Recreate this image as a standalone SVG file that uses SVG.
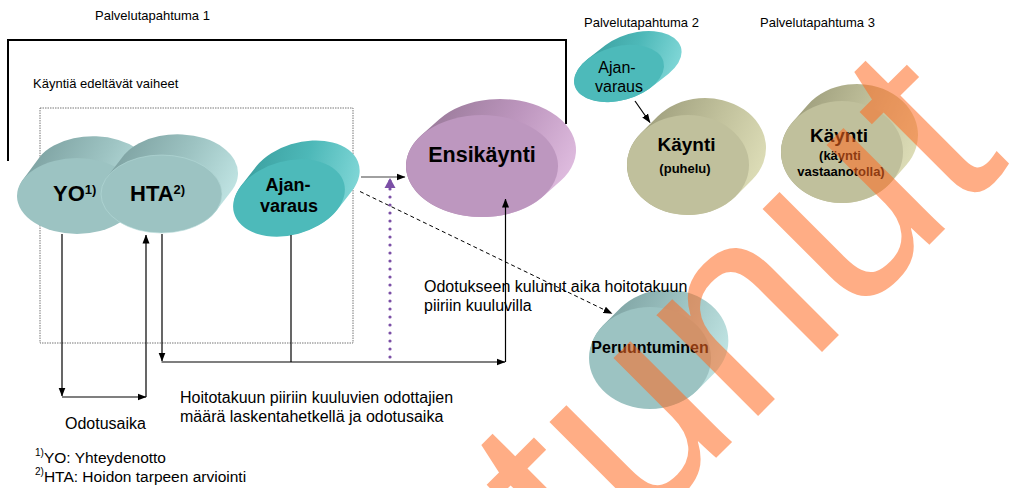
<svg xmlns="http://www.w3.org/2000/svg" width="1017" height="488" viewBox="0 0 1017 488">
<defs>
<style>
text{font-family:"Liberation Sans",Arial,sans-serif;fill:#000}
.lbl{font-size:13px}
.note{font-size:16px}
.foot{font-size:15.5px}
.sup{font-size:10px}
.b{font-weight:bold}
.ln{fill:none;stroke:#000;stroke-width:1.2}
text.wm{fill:#ff6a20;fill-opacity:0.55;font-size:271px}
</style>
<linearGradient id="gTg" x1="0" y1="0.2" x2="1" y2="0.6"><stop offset="0" stop-color="#789c9c"/><stop offset="0.55" stop-color="#9dc3c2"/><stop offset="1" stop-color="#c2e6e5"/></linearGradient>
<linearGradient id="gTe" x1="0" y1="0.2" x2="1" y2="0.6"><stop offset="0" stop-color="#379a9a"/><stop offset="0.55" stop-color="#4db8b8"/><stop offset="1" stop-color="#82d8d8"/></linearGradient>
<linearGradient id="gPu" x1="0" y1="0.2" x2="1" y2="0.6"><stop offset="0" stop-color="#937593"/><stop offset="0.55" stop-color="#bd96be"/><stop offset="1" stop-color="#e0bde0"/></linearGradient>
<linearGradient id="gKh" x1="0" y1="0.2" x2="1" y2="0.6"><stop offset="0" stop-color="#979776"/><stop offset="0.55" stop-color="#c0c09b"/><stop offset="1" stop-color="#dedeb8"/></linearGradient>
<marker id="ar" markerWidth="9" markerHeight="8" refX="8.5" refY="4" orient="auto" markerUnits="userSpaceOnUse"><path d="M0,0.5 L9,4 L0,7.5 Z" fill="#000"/></marker>
<marker id="arP" markerWidth="12" markerHeight="12" refX="10" refY="6" orient="auto" markerUnits="userSpaceOnUse"><path d="M0,0.5 L10,6 L0,11.5 Z" fill="#7b4fa6"/></marker>
</defs>

<g id="frames">
<path d="M8,161 V40 H566 V124" fill="none" stroke="#000" stroke-width="2"/>
<rect x="40" y="108" width="313" height="235" fill="none" stroke="#777" stroke-width="1" stroke-dasharray="1.5 1"/>
</g>

<g id="titles">
<text class="lbl" x="95" y="20">Palvelutapahtuma 1</text>
<text class="lbl" x="584" y="26.5">Palvelutapahtuma 2</text>
<text class="lbl" x="760" y="26.5">Palvelutapahtuma 3</text>
<text class="lbl" x="33" y="87.5">Käyntiä edeltävät vaiheet</text>
</g>

<g id="node-yo">
<path d="M131.3,212.1 L148.3,189.1 A60,38 0 0 0 39.7,156.9 L22.7,179.9 A60,38 0 0 0 131.3,212.1 Z" fill="url(#gTg)"/>
<ellipse cx="77" cy="196" rx="60" ry="38" fill="#9cc3c2"/>
<text class="b" x="53" y="201" font-size="22">YO<tspan font-size="13" dy="-7">1)</tspan></text>
</g>

<g id="node-hta">
<path d="M215.6,211.4 L232.6,189.4 A60.5,39 0 0 0 124.4,154.6 L107.4,176.6 A60.5,39 0 0 0 215.6,211.4 Z" fill="url(#gTg)"/>
<ellipse cx="161.5" cy="194" rx="60.5" ry="39" fill="#9cc3c2" stroke="#b6dad9" stroke-width="0.6"/>
<text class="b" x="130" y="201" font-size="22">HTA<tspan font-size="13" dy="-7">2)</tspan></text>
</g>

<g id="node-ajanvaraus1">
<g transform="rotate(-15 289 198)">
<path d="M332.1,222.2 L352.1,207.2 A57,37 0 0 0 265.9,158.8 L245.9,173.8 A57,37 0 0 0 332.1,222.2 Z" fill="url(#gTe)"/>
<ellipse cx="289" cy="198" rx="57" ry="37" fill="#4dbaba"/>
</g>
<text class="b" x="288" y="191" font-size="18" text-anchor="middle">Ajan-</text>
<text class="b" x="289" y="212" font-size="18" text-anchor="middle">varaus</text>
</g>

<g id="node-ensikaynti">
<path d="M542.7,196.7 L560.7,180.7 A76,51 0 0 0 439.3,119.3 L421.3,135.3 A76,51 0 0 0 542.7,196.7 Z" fill="url(#gPu)"/>
<ellipse cx="482" cy="166" rx="76" ry="51" fill="#bd97bf"/>
<text class="b" x="482" y="162" font-size="21.5" text-anchor="middle">Ensikäynti</text>
</g>

<g id="node-ajanvaraus2">
<g transform="rotate(-15 619 73.5)">
<path d="M645.9,95.4 L666.9,86.5 A46,27 0 0 0 613.1,42.7 L592.1,51.6 A46,27 0 0 0 645.9,95.4 Z" fill="url(#gTe)"/>
<ellipse cx="619" cy="73.5" rx="46" ry="27" fill="#4dbaba"/>
</g>
<text x="617" y="73" font-size="16" text-anchor="middle">Ajan-</text>
<text x="619" y="92" font-size="16" text-anchor="middle">varaus</text>
</g>

<g id="node-kaynti-puhelu">
<path d="M735.2,196.7 L752.2,179.7 A61,50 0 0 0 657.8,116.3 L640.8,133.3 A61,50 0 0 0 735.2,196.7 Z" fill="url(#gKh)"/>
<ellipse cx="688" cy="165" rx="61" ry="50" fill="#c0c09c"/>
<text class="b" x="686.5" y="150.5" font-size="19" text-anchor="middle">Käynti</text>
<text class="b" x="685" y="173" font-size="13" text-anchor="middle">(puhelu)</text>
</g>

<g id="node-kaynti-vastaanotto">
<path d="M891.1,182.3 L906.1,165.3 A61,51 0 0 0 807.9,104.7 L792.9,121.7 A61,51 0 0 0 891.1,182.3 Z" fill="url(#gKh)"/>
<ellipse cx="842" cy="152" rx="61" ry="51" fill="#c0c09c"/>
<text class="b" x="839" y="141.5" font-size="19" text-anchor="middle">Käynti</text>
<text class="b" x="840" y="159.5" font-size="13" text-anchor="middle">(käynti</text>
<text class="b" x="841" y="175.5" font-size="13" text-anchor="middle">vastaanotolla)</text>
</g>

<g id="node-peruuntuminen">
<path d="M696.8,390.7 L714.8,372.7 A61,51 0 0 0 621.2,307.3 L603.2,325.3 A61,51 0 0 0 696.8,390.7 Z" fill="url(#gTg)"/>
<ellipse cx="650" cy="358" rx="61" ry="51" fill="#9cc3c2"/>
<text class="b" x="650" y="353" font-size="16" text-anchor="middle">Peruuntuminen</text>
</g>

<g id="connectors">
<line class="ln" x1="62" y1="234" x2="62" y2="396" marker-end="url(#ar)"/>
<line class="ln" x1="62" y1="397" x2="146" y2="397" marker-end="url(#ar)"/>
<line class="ln" x1="146" y1="397" x2="146" y2="235" marker-end="url(#ar)"/>
<line class="ln" x1="162" y1="234" x2="162" y2="361" marker-end="url(#ar)"/>
<line class="ln" x1="291" y1="235" x2="291" y2="362"/>
<line class="ln" x1="161.5" y1="362" x2="505" y2="362" marker-end="url(#ar)"/>
<line class="ln" x1="505.5" y1="362" x2="505.5" y2="199" marker-end="url(#ar)"/>
<line x1="361" y1="177" x2="405" y2="177" stroke="#808080" stroke-width="1.6" marker-end="url(#ar)"/>
<line x1="360" y1="191.5" x2="612" y2="313.5" stroke="#000" stroke-width="1" stroke-dasharray="4 3" marker-end="url(#ar)"/>
<line x1="390" y1="357" x2="390" y2="178" stroke="#7b4fa6" stroke-width="3.2" stroke-linecap="round" stroke-dasharray="0 8" marker-end="url(#arP)"/>
<line class="ln" x1="635" y1="101" x2="650" y2="122.5" marker-end="url(#ar)"/>
</g>

<g id="notes">
<text class="note" x="424" y="291.5">Odotukseen kulunut aika hoitotakuun</text>
<text class="note" x="424" y="310.5">piiriin kuuluvilla</text>
<text class="note" x="180" y="403">Hoitotakuun piiriin kuuluvien odottajien</text>
<text class="note" x="180" y="422">määrä laskentahetkellä ja odotusaika</text>
<text class="note" x="65" y="428.5">Odotusaika</text>
<text class="foot" x="35" y="462.5"><tspan class="sup" dy="-7">1)</tspan><tspan dy="7">YO: Yhteydenotto</tspan></text>
<text class="foot" x="35" y="481.5"><tspan class="sup" dy="-7">2)</tspan><tspan dy="7">HTA: Hoidon tarpeen arviointi</tspan></text>
</g>

<g id="watermark">
<text class="wm" x="585" y="589" transform="rotate(-45 585 589)">tunut</text>
</g>
</svg>
